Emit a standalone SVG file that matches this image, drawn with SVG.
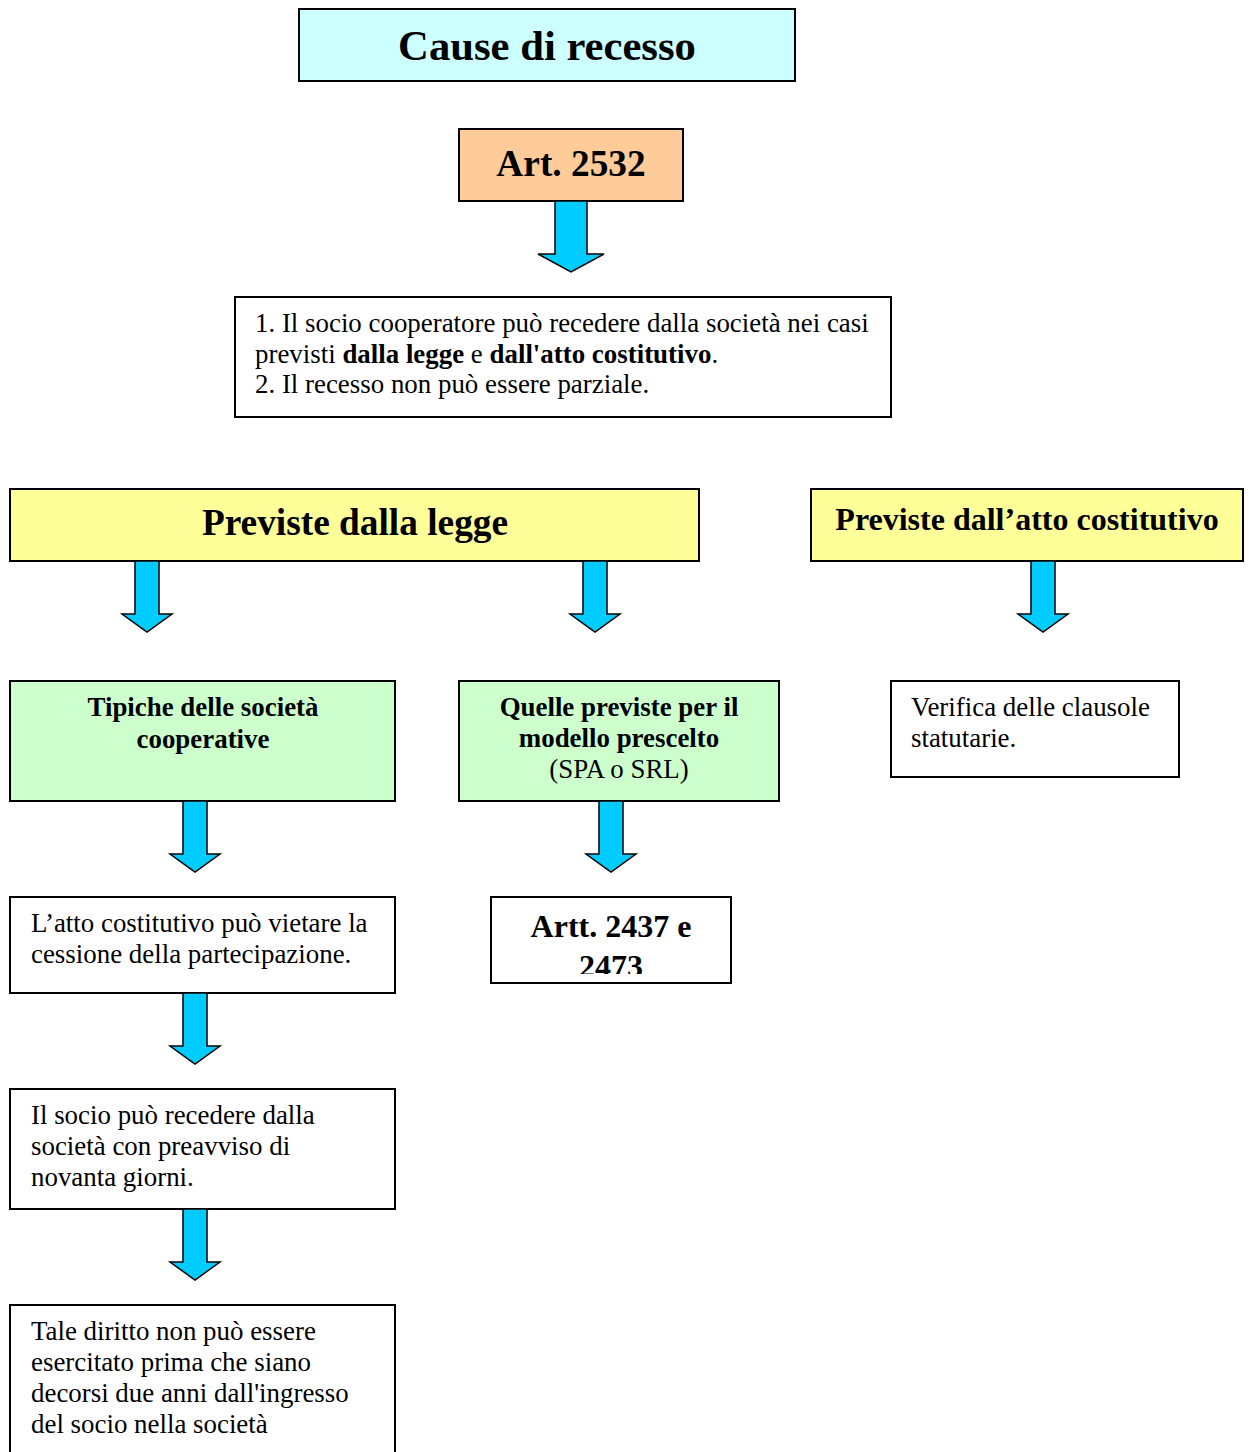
<svg xmlns="http://www.w3.org/2000/svg" xmlns:xlink="http://www.w3.org/1999/xlink" width="1249" height="1452" viewBox="0 0 1249 1452">
  <style>
    .box { stroke: #000; stroke-width: 2; }
    .white { fill: #fff; }
    .cyan { fill: #ccffff; }
    .orange { fill: #ffcc99; }
    .yellow { fill: #ffff99; }
    .green { fill: #ccffcc; }
    text { font-family: "Liberation Serif", "Times New Roman", serif; fill: #000; }
    .t { font-size: 26.9px; }
    .b { font-weight: bold; }
    .c { text-anchor: middle; }
    .arrow { fill: #00ccff; stroke: #000; stroke-width: 1.5; stroke-linejoin: miter; }
  </style>
  <defs>
    <path id="arr" d="M-12,0 L12,0 L12,53 L25,53 L0,71 L-25,53 L-12,53 Z"/>
    <path id="arrBig" d="M-16,0 L16,0 L16,53 L33,53 L0,71 L-33,53 L-16,53 Z"/>
    <clipPath id="clipArtt"><rect x="492" y="898" width="238" height="76"/></clipPath>
  </defs>
  <rect width="1249" height="1452" fill="#fff"/>

  <g id="title">
    <rect class="box cyan" x="299" y="9" width="496" height="72"/>
    <text class="b c" x="547" y="60" font-size="42.67">Cause di recesso</text>
  </g>

  <g id="art2532">
    <rect class="box orange" x="459" y="129" width="224" height="72"/>
    <text class="b c" x="571" y="176" font-size="37.33">Art. 2532</text>
  </g>

  <g id="testo2532">
    <rect class="box white" x="235" y="297" width="656" height="120"/>
    <text class="t" x="255" y="332">1. Il socio cooperatore può recedere dalla società nei casi</text>
    <text class="t" x="255" y="363">previsti <tspan class="b">dalla legge</tspan> e <tspan class="b">dall'atto costitutivo</tspan>.</text>
    <text class="t" x="255" y="393">2. Il recesso non può essere parziale.</text>
  </g>

  <g id="legge">
    <rect class="box yellow" x="10" y="489" width="689" height="72"/>
    <text class="b c" x="355" y="535" font-size="37.33">Previste dalla legge</text>
  </g>

  <g id="atto">
    <rect class="box yellow" x="811" y="489" width="432" height="72"/>
    <text class="b c" x="1027" y="530" font-size="32">Previste dall’atto costitutivo</text>
  </g>

  <g id="tipiche">
    <rect class="box green" x="10" y="681" width="385" height="120"/>
    <text class="t b c" x="203" y="716">Tipiche delle società</text>
    <text class="t b c" x="203" y="748">cooperative</text>
  </g>

  <g id="quelle">
    <rect class="box green" x="459" y="681" width="320" height="120"/>
    <text class="t b c" x="619" y="716">Quelle previste per il</text>
    <text class="t b c" x="619" y="747">modello prescelto</text>
    <text class="t c" x="619" y="778">(SPA o SRL)</text>
  </g>

  <g id="verifica">
    <rect class="box white" x="891" y="681" width="288" height="96"/>
    <text class="t" x="911" y="716">Verifica delle clausole</text>
    <text class="t" x="911" y="747">statutarie.</text>
  </g>

  <g id="vietare">
    <rect class="box white" x="10" y="897" width="385" height="96"/>
    <text class="t" x="31" y="932">L’atto costitutivo può vietare la</text>
    <text class="t" x="31" y="963">cessione della partecipazione.</text>
  </g>

  <g id="artt">
    <rect class="box white" x="491" y="897" width="240" height="86"/>
    <g clip-path="url(#clipArtt)">
      <text class="b c" x="611" y="937" font-size="32">Artt. 2437 e</text>
      <text class="b c" x="611" y="977" font-size="32">2473</text>
    </g>
  </g>

  <g id="preavviso">
    <rect class="box white" x="10" y="1089" width="385" height="120"/>
    <text class="t" x="31" y="1124">Il socio può recedere dalla</text>
    <text class="t" x="31" y="1155">società con preavviso di</text>
    <text class="t" x="31" y="1186">novanta giorni.</text>
  </g>

  <g id="diritto">
    <rect class="box white" x="10" y="1305" width="385" height="200"/>
    <text class="t" x="31" y="1340">Tale diritto non può essere</text>
    <text class="t" x="31" y="1371">esercitato prima che siano</text>
    <text class="t" x="31" y="1402">decorsi due anni dall'ingresso</text>
    <text class="t" x="31" y="1433">del socio nella società</text>
  </g>

  <g id="connectors">
    <use xlink:href="#arrBig" class="arrow" transform="translate(571,201)"/>
    <use xlink:href="#arr" class="arrow" transform="translate(147,561)"/>
    <use xlink:href="#arr" class="arrow" transform="translate(595,561)"/>
    <use xlink:href="#arr" class="arrow" transform="translate(1043,561)"/>
    <use xlink:href="#arr" class="arrow" transform="translate(195,801)"/>
    <use xlink:href="#arr" class="arrow" transform="translate(611,801)"/>
    <use xlink:href="#arr" class="arrow" transform="translate(195,993)"/>
    <use xlink:href="#arr" class="arrow" transform="translate(195,1209)"/>
  </g>
</svg>
